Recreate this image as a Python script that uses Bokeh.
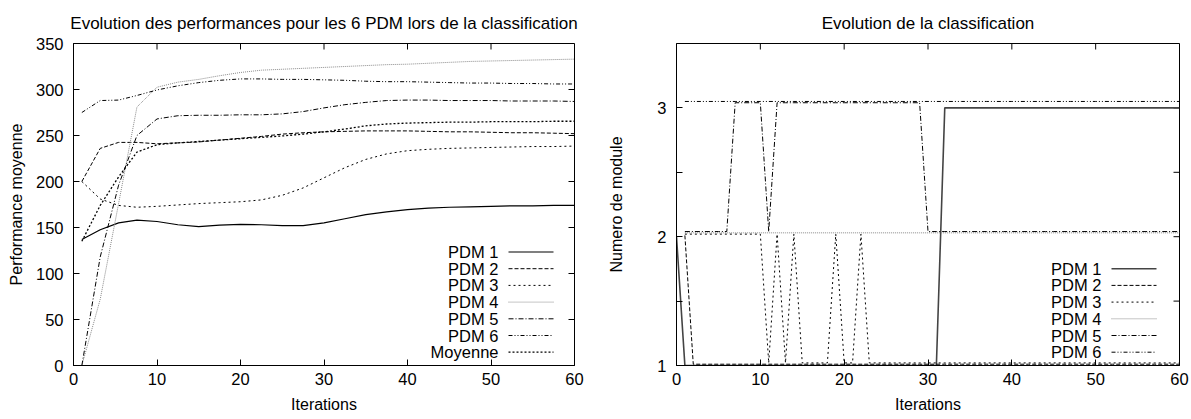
from bokeh.plotting import figure
from bokeh.layouts import row
from bokeh.models import Range1d, FixedTicker, Label, Arrow
from bokeh.embed import file_html
from bokeh.resources import INLINE

FONT = "Liberation Sans"

# ---------------- data: left chart (performances) ----------------
iterations_perf = [1, 3.2, 5.4, 7.6, 10, 12.5, 15, 17.5, 20, 22.5, 25, 27.5, 30,
                   32.5, 35, 37.5, 40, 42.5, 45, 47.5, 50, 52.5, 55, 57.5, 60]
perf_pdm1 = [137, 147.5, 155, 158, 156.5, 153, 151, 152.5, 153.5, 153, 152, 152, 155,
             159.5, 164, 167, 169.5, 171, 172, 172.5, 173, 173.5, 173.5, 174, 174]
perf_pdm2 = [200, 236, 242.5, 242.5, 241, 242, 243, 245, 247, 249, 251.5, 253, 254,
             254.5, 255, 255, 255, 254.5, 254, 254, 253.5, 253, 253, 252.5, 252]
perf_pdm3 = [200, 181, 174, 172, 173, 174.5, 176, 177, 178, 180, 185, 193, 204,
             215, 224, 230, 233.5, 235, 236, 236.5, 237, 237.5, 238, 238, 238.5]
perf_pdm4 = [0, 72, 176, 281, 302.5, 308, 311, 315, 318.5, 321, 322, 323, 324,
             325, 326, 327, 327.5, 328.5, 329.5, 330.5, 331, 331.5, 332, 332.5, 333]
perf_pdm5 = [0, 118, 196, 250, 268, 271.5, 272, 272, 272.5, 272.5, 273.5, 276, 280,
             283.5, 286, 288, 288.5, 288.5, 288, 288, 288, 287.5, 287.5, 287.5, 287]
perf_pdm6 = [275, 288, 288.5, 293.5, 299.5, 304, 307.5, 310, 311.5, 311.5, 311, 311, 310.5,
             310, 309, 308.5, 308.5, 308, 307.5, 307, 307, 306.5, 306.5, 306, 306]
perf_moyenne = [135, 174, 205, 232, 240, 242, 243.5, 245, 246.5, 248, 249.5, 251.5, 254,
                257, 260.5, 262.5, 263.5, 264, 264.5, 264.5, 265, 265, 265, 265.5, 265.5]
noms_perf = ["PDM 1", "PDM 2", "PDM 3", "PDM 4", "PDM 5", "PDM 6", "Moyenne"]

# ---------------- data: right chart (classification) ----------------
iterations_pdm1 = list(range(0, 61))
iterations_autres = list(range(1, 61))
module_pdm1 = [2,
               1, 1, 1, 1, 1, 1, 1, 1, 1, 1,
               1, 1, 1, 1, 1, 1, 1, 1, 1, 1,
               1, 1, 1, 1, 1, 1, 1, 1, 1, 1,
               1, 3, 3, 3, 3, 3, 3, 3, 3, 3,
               3, 3, 3, 3, 3, 3, 3, 3, 3, 3,
               3, 3, 3, 3, 3, 3, 3, 3, 3, 3]
module_pdm2 = [2, 1, 1, 1, 1, 1, 1, 1, 1, 1,
               1, 1, 1, 1, 1, 1, 1, 1, 1, 1,
               1, 1, 1, 1, 1, 1, 1, 1, 1, 1,
               1, 1, 1, 1, 1, 1, 1, 1, 1, 1,
               1, 1, 1, 1, 1, 1, 1, 1, 1, 1,
               1, 1, 1, 1, 1, 1, 1, 1, 1, 1]
module_pdm3 = [2, 2, 2, 2, 2, 2, 2, 2, 2, 2,
               1, 2, 1, 2, 1, 1, 1, 1, 2, 1,
               1, 2, 1, 1, 1, 1, 1, 1, 1, 1,
               1, 1, 1, 1, 1, 1, 1, 1, 1, 1,
               1, 1, 1, 1, 1, 1, 1, 1, 1, 1,
               1, 1, 1, 1, 1, 1, 1, 1, 1, 1]
module_pdm4 = [2, 2, 2, 2, 2, 2, 2, 2, 2, 2,
               2, 2, 2, 2, 2, 2, 2, 2, 2, 2,
               2, 2, 2, 2, 2, 2, 2, 2, 2, 2,
               2, 2, 2, 2, 2, 2, 2, 2, 2, 2,
               2, 2, 2, 2, 2, 2, 2, 2, 2, 2,
               2, 2, 2, 2, 2, 2, 2, 2, 2, 2]
module_pdm5 = [2, 2, 2, 2, 2, 2, 3, 3, 3, 3,
               2, 3, 3, 3, 3, 3, 3, 3, 3, 3,
               3, 3, 3, 3, 3, 3, 3, 3, 3, 2,
               2, 2, 2, 2, 2, 2, 2, 2, 2, 2,
               2, 2, 2, 2, 2, 2, 2, 2, 2, 2,
               2, 2, 2, 2, 2, 2, 2, 2, 2, 2]
module_pdm6 = [3, 3, 3, 3, 3, 3, 3, 3, 3, 3,
               3, 3, 3, 3, 3, 3, 3, 3, 3, 3,
               3, 3, 3, 3, 3, 3, 3, 3, 3, 3,
               3, 3, 3, 3, 3, 3, 3, 3, 3, 3,
               3, 3, 3, 3, 3, 3, 3, 3, 3, 3,
               3, 3, 3, 3, 3, 3, 3, 3, 3, 3]
noms_classif = ["PDM 1", "PDM 2", "PDM 3", "PDM 4", "PDM 5", "PDM 6"]
# small vertical separation (gnuplot-style) so overlapping series stay visible
decalage = [0.0, 0.01, 0.02, 0.03, 0.04, 0.05]

ticks_x = [0, 10, 20, 30, 40, 50, 60]
ticks_perf = [0, 50, 100, 150, 200, 250, 300, 350]
ticks_module = [1, 2, 3]
ticks_module_mineurs = [1.5, 2.5]

# ---------------- styles ----------------
styles = [
    dict(line_color="black", line_width=1.2, line_dash="solid"),
    dict(line_color="black", line_width=1.0, line_dash="4 2"),
    dict(line_color="black", line_width=1.0, line_dash="2 3"),
    dict(line_color="#8a8a8a", line_width=1.0, line_dash="1 1"),
    dict(line_color="black", line_width=1.0, line_dash="5 2 1 2"),
    dict(line_color="black", line_width=1.0, line_dash="4 2 1 2 1 2"),
    dict(line_color="black", line_width=1.3, line_dash="2 2"),
]

FS = "16.5px"
H = 419
TICK = 6


def base_fig(width, bl, br, title, ylabel, x0, x1, y0, y1, yticks, yminor, ylab_std, ytick_std):
    p = figure(width=width, height=H, output_backend="svg", toolbar_location=None,
               x_range=Range1d(x0, x1), y_range=Range1d(y0, y1),
               min_border_left=bl, min_border_right=br, min_border_top=43, min_border_bottom=54)
    p.title.text = title
    p.title.align = "center"
    p.title.text_font = FONT
    p.title.text_font_size = "17px"
    p.title.text_font_style = "normal"
    p.title.text_color = "black"
    p.title.standoff = 21
    p.grid.visible = False
    p.outline_line_color = "black"
    p.outline_line_alpha = 1.0
    p.outline_line_width = 1
    p.background_fill_color = "white"
    p.border_fill_color = "white"

    for ax in (p.xaxis[0], p.yaxis[0]):
        ax.major_tick_in = TICK
        ax.major_tick_out = 0
        ax.minor_tick_in = TICK
        ax.minor_tick_out = 0
        ax.major_tick_line_color = "black"
        ax.minor_tick_line_color = "black"
        ax.axis_line_color = "black"
        ax.major_label_text_font = FONT
        ax.major_label_text_font_size = FS
        ax.major_label_text_color = "black"
        ax.axis_label_text_font = FONT
        ax.axis_label_text_font_size = "16px"
        ax.axis_label_text_font_style = "normal"
        ax.axis_label_text_color = "black"
    p.xaxis[0].ticker = FixedTicker(ticks=ticks_x)
    p.yaxis[0].ticker = FixedTicker(ticks=yticks, minor_ticks=yminor)
    p.xaxis[0].major_label_standoff = 7
    p.xaxis[0].axis_label = "Iterations"
    p.xaxis[0].axis_label_standoff = 8
    p.yaxis[0].axis_label = ylabel
    p.yaxis[0].major_label_standoff = ytick_std
    p.yaxis[0].axis_label_standoff = ylab_std

    # mirrored inward ticks on the top and right edges (gnuplot style)
    p.ray(x=ticks_x, y=[y1] * len(ticks_x), length=TICK, length_units="screen",
          angle=-90, angle_units="deg", line_color="black", line_width=1)
    yall = list(yticks) + list(yminor)
    p.ray(x=[x1] * len(yall), y=yall, length=TICK, length_units="screen",
          angle=180, angle_units="deg", line_color="black", line_width=1)
    return p


def add_key(p, names, key_styles):
    """gnuplot-like key: right-aligned text followed by a line sample."""
    n = len(names)
    pitch = 16.7
    base = 13.3
    for i, (name, st) in enumerate(zip(names, key_styles)):
        y = base + (n - 1 - i) * pitch
        p.add_layout(Label(x=425, y=y, x_units="screen", y_units="screen", text=name,
                           text_align="right", text_baseline="middle",
                           text_font=FONT, text_font_size=FS, text_color="black"))
        p.add_layout(Arrow(start=None, end=None, x_start=435, y_start=y, x_end=480, y_end=y,
                           start_units="screen", end_units="screen",
                           line_color=st["line_color"], line_width=st["line_width"],
                           line_dash=st["line_dash"]))


# ---------------- left chart ----------------
p1 = base_fig(600, 73, 26, "Evolution des performances pour les 6 PDM lors de la classification",
              "Performance moyenne", 0, 60, 0, 350, ticks_perf, [], 8, 10)
series_perf = [perf_pdm1, perf_pdm2, perf_pdm3, perf_pdm4, perf_pdm5, perf_pdm6, perf_moyenne]
for vals, st in zip(series_perf, styles):
    p1.line(iterations_perf, vals, **st)
add_key(p1, noms_perf, styles)

# ---------------- right chart ----------------
p2 = base_fig(591, 76, 12, "Evolution de la classification", "Numero de module",
              0, 60, 1, 3.5, ticks_module, ticks_module_mineurs, 29, 10)
series_classif = [module_pdm1, module_pdm2, module_pdm3, module_pdm4, module_pdm5, module_pdm6]
styles2 = [dict(s) for s in styles[:6]]
styles2[0].update(line_color="#444444", line_width=1.6)
for k, (vals, st) in enumerate(zip(series_classif, styles2)):
    xs = iterations_pdm1 if k == 0 else iterations_autres
    ys = [v + decalage[k] for v in vals]
    p2.line(xs, ys, **st)
add_key(p2, noms_classif, styles2)

layout = row(p1, p2)
open("out.html", "w").write(file_html(layout, INLINE))
